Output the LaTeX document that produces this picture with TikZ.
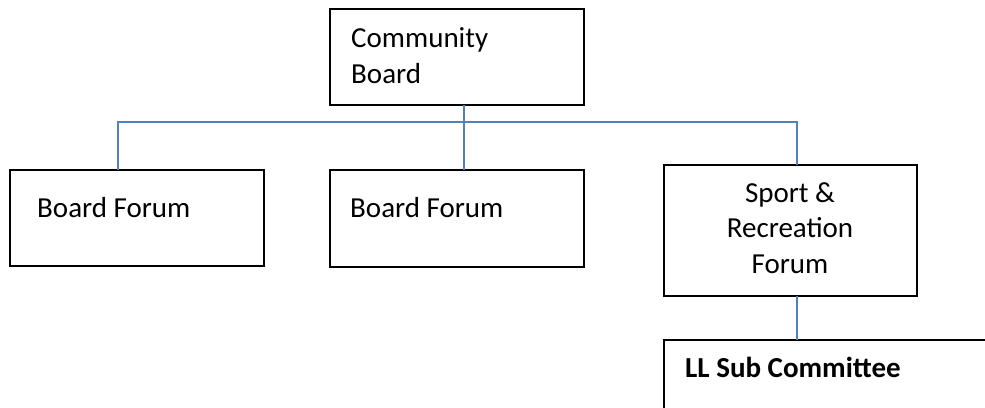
\documentclass[tikz,border=0pt]{standalone}
\usepackage{fontspec}
\setmainfont{Carlito}
\definecolor{linkblue}{HTML}{4F81BD}
\tikzset{
	box/.style={draw, line width=2.2pt, inner sep=0pt, outer sep=0pt, anchor=north west},
	link/.style={draw=linkblue, line width=2pt},
	lbl/.style={inner sep=0pt, font=\fontsize{29}{35.5}\selectfont}
}
\begin{document}
\begin{tikzpicture}[x=1pt, y=-1pt]
			\useasboundingbox (0,0) rectangle (985,407);
			\clip (0,0) rectangle (985,407);
			% boxes
			\node[box, minimum width=254, minimum height=96] (cb) at (330,9) {};
			\node[box, minimum width=254, minimum height=96] (bfl) at (10,170) {};
			\node[box, minimum width=254, minimum height=97] (bfm) at (330,170) {};
			\node[box, minimum width=253, minimum height=131] (srf) at (664,165) {};
			\node[box, minimum width=340, minimum height=100] (llsc) at (664,340) {};
			% texts (base = last line)
			\node[lbl, anchor=base west, align=left] (cbtext) at (351,83) {Community\\Board};
			\node[lbl, anchor=base west] (bfltext) at (37,217) {Board Forum};
			\node[lbl, anchor=base west] (bfmtext) at (350,217) {Board Forum};
			\node[lbl, anchor=base, align=center] (srftext) at (790,273) {Sport \&\\Recreation\\Forum};
			\node[lbl, anchor=base west, font=\fontsize{29}{35}\selectfont\bfseries] (lltext) at (685,377) {LL Sub Committee};
			% connectors
			\coordinate (busL) at (118,122);
			\coordinate (busM) at (464,122);
			\coordinate (busR) at (797,122);
			\draw[link] (cb.south -| busM) -- (bfm.north -| busM);
			\draw[link] (bfl.north -| busL) -- (busL) -- (busR) -- (srf.north -| busR);
			\draw[link] (srf.south -| busR) -- (llsc.north -| busR);
		\end{tikzpicture}
\end{document}
